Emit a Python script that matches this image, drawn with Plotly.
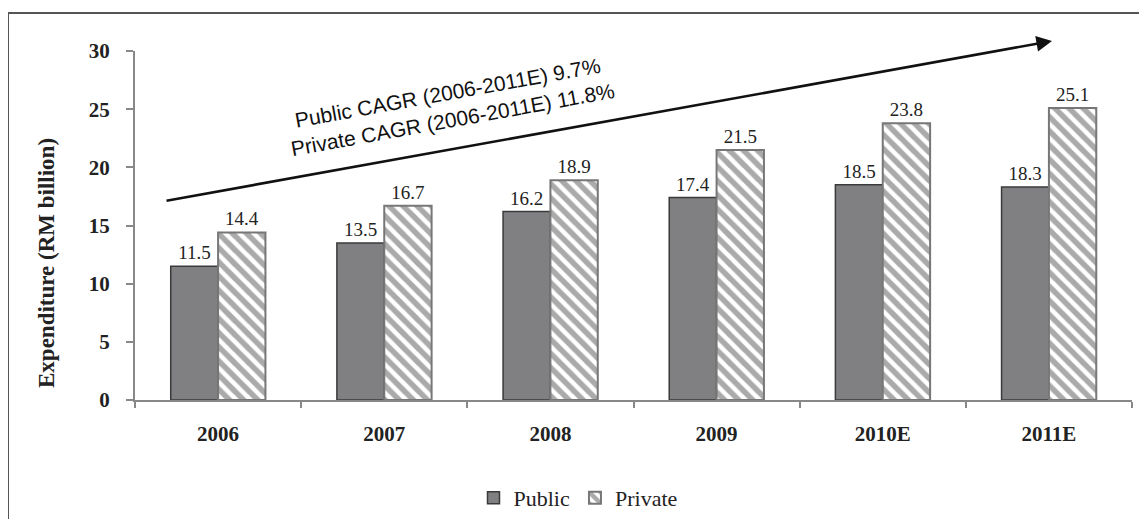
import plotly.graph_objects as go

years = ["2006", "2007", "2008", "2009", "2010E", "2011E"]
public = [11.5, 13.5, 16.2, 17.4, 18.5, 18.3]
private = [14.4, 16.7, 18.9, 21.5, 23.8, 25.1]
y_ticks = [0, 5, 10, 15, 20, 25, 30]
y_title = "Expenditure (RM billion)"
cagr_text = "Public CAGR (2006-2011E) 9.7%<br>Private CAGR (2006-2011E) 11.8%"

serif = "Liberation Serif"
sans = "Liberation Sans, Arial, sans-serif"

OFF = 8  # page body margin
W, H = 1147 - OFF, 519 - OFF
L, T = 135 - OFF, 51 - OFF
R = W - (1132 - OFF)
B = H - (400 - OFF)
pw, ph = W - L - R, H - T - B

def px(x):
    return (x - OFF - L) / pw

def py(y):
    return (H - B - (y - OFF)) / ph

fig = go.Figure()
fig.add_trace(go.Bar(
    x=years, y=public, name="Public",
    marker=dict(color="#808083", line=dict(color="#3a3a3a", width=1.5)),
    text=[f"{v:.1f}" for v in public], textposition="outside",
    textfont=dict(family=serif, size=19, color="#222"),
    cliponaxis=False,
))
fig.add_trace(go.Bar(
    x=years, y=private, name="Private",
    marker=dict(color="white", line=dict(color="#777777", width=2),
                pattern=dict(shape="\\", fgcolor="#555555", bgcolor="white",
                             size=10, solidity=0.55)),
    text=[f"{v:.1f}" for v in private], textposition="outside",
    textfont=dict(family=serif, size=19, color="#222"),
    cliponaxis=False,
))

fig.update_layout(
    width=W, height=H,
    margin=dict(l=L, r=R, t=T, b=B, autoexpand=False),
    paper_bgcolor="white", plot_bgcolor="white",
    barmode="group", bargap=0.43, bargroupgap=0,
    showlegend=True,
    legend=dict(orientation="h", x=px(578), xanchor="center", y=py(498), yanchor="middle",
                font=dict(family=serif, size=22, color="#222"),
                itemwidth=30, traceorder="normal"),
    xaxis=dict(type="category", showline=True, linecolor="#888", linewidth=2,
               ticks="outside", tickson="boundaries", ticklen=6, tickcolor="#888",
               tickwidth=2, showgrid=False, zeroline=False, automargin=False,
               tickfont=dict(family=serif, size=21, color="#222", weight="bold"),
               ticklabelstandoff=14),
    yaxis=dict(range=[0, 30], tickvals=y_ticks, showline=True, linecolor="#888",
               linewidth=2, ticks="outside", ticklen=7, tickcolor="#888", tickwidth=2,
               showgrid=False, zeroline=False, automargin=False,
               tickfont=dict(family=serif, size=21, color="#222", weight="bold"),
               ticklabelstandoff=12),
)

# y-axis title (offset downward like the original)
fig.add_annotation(xref="paper", yref="paper", x=px(46), y=py(263),
                   xanchor="center", yanchor="middle", text=y_title, showarrow=False,
                   textangle=-90,
                   font=dict(family=serif, size=23, color="#222", weight="bold"))

# arrow
tip = (1052, 41)
tail = (165, 201)
fig.add_annotation(xref="paper", yref="paper", x=px(tip[0]), y=py(tip[1]),
                   ax=tail[0] - tip[0], ay=tail[1] - tip[1], axref="pixel", ayref="pixel",
                   text="", showarrow=True, arrowhead=2, arrowsize=1.2, arrowwidth=2.6,
                   arrowcolor="#111")
fig.add_annotation(xref="paper", yref="paper", x=px(450), y=py(106),
                   xanchor="center", yanchor="middle",
                   text=cagr_text, showarrow=False, textangle=-10.3,
                   font=dict(family=sans, size=21, color="#111"), align="center")

# outer border (left and top only visible)
fig.add_shape(type="line", xref="paper", yref="paper", x0=px(8), x1=px(8),
              y0=py(13), y1=py(600), line=dict(color="#555", width=2))
fig.add_shape(type="line", xref="paper", yref="paper", x0=px(8), x1=px(1300),
              y0=py(13), y1=py(13), line=dict(color="#555", width=2))

fig.write_html("out.html")
